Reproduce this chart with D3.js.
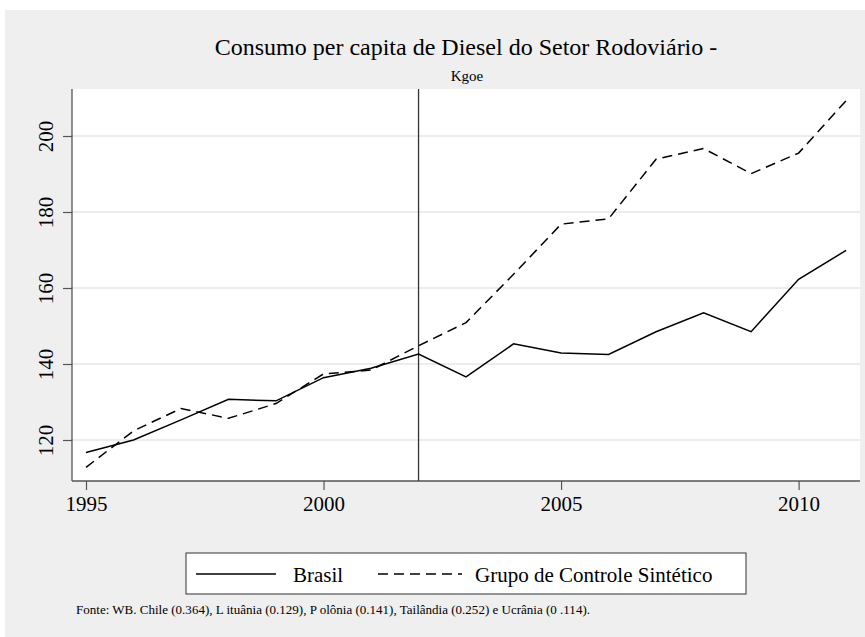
<!DOCTYPE html>
<html>
<head>
<meta charset="utf-8">
<script src="https://cdn.jsdelivr.net/npm/d3@7"></script>
<style>
  body { margin: 0; background: #fff; }
  svg text { font-family: "Liberation Serif", "Times New Roman", serif; fill: #000; }
</style>
</head>
<body>
<div id="chart"></div>
<script>
// data
const years = [1995, 1996, 1997, 1998, 1999, 2000, 2001, 2002, 2003,
  2004, 2005, 2006, 2007, 2008, 2009, 2010, 2011];
const brasil = [116.7, 120.0, 125.3, 130.7, 130.3, 136.4, 138.9, 142.6, 136.6,
  145.3, 142.9, 142.5, 148.5, 153.5, 148.5, 162.3, 169.9];
const sintetico = [112.8, 122.4, 128.3, 125.7, 129.6, 137.4, 138.4, 144.8, 150.9,
  163.6, 176.8, 178.2, 193.9, 196.7, 190.1, 195.5, 209.3];
const xTicks = [1995, 2000, 2005, 2010];
const yTicks = [120, 140, 160, 180, 200];
const treatYear = 2002;
const legendLabels = ["Brasil", "Grupo de Controle Sintético"];

const width = 865;
const height = 637;
// plot region
const plotLeft = 72, plotRight = 860, plotTop = 89, plotBottom = 481;

const x = d3.scaleLinear().domain([1995, 2010]).range([86, 798.6]);
const y = d3.scaleLinear().domain([120, 200]).range([440, 136]);

const svg = d3.select("#chart")
  .append("svg")
  .attr("width", width)
  .attr("height", height);

// outer gray panel
svg.append("rect")
  .attr("x", 5).attr("y", 10)
  .attr("width", width - 5).attr("height", height - 10)
  .attr("fill", "#efefef");

// plot background
svg.append("rect")
  .attr("x", plotLeft).attr("y", plotTop)
  .attr("width", plotRight - plotLeft).attr("height", plotBottom - plotTop)
  .attr("fill", "#fff");

// gridlines
svg.append("g")
  .selectAll("line")
  .data(yTicks)
  .join("line")
  .attr("x1", plotLeft).attr("x2", plotRight)
  .attr("y1", d => y(d)).attr("y2", d => y(d))
  .attr("stroke", "#e6e6e6")
  .attr("stroke-width", 1.3);

// title
svg.append("text")
  .attr("x", 466).attr("y", 55)
  .attr("text-anchor", "middle")
  .style("font-size", "24px")
  .text("Consumo per capita de Diesel do Setor Rodoviário -");
svg.append("text")
  .attr("x", 467).attr("y", 81)
  .attr("text-anchor", "middle")
  .style("font-size", "15px")
  .text("Kgoe");

// x axis
svg.append("g")
  .attr("transform", `translate(0,${plotBottom})`)
  .call(d3.axisBottom(x).tickValues(xTicks).tickSize(9).tickFormat(d3.format("d")))
  .call(g => g.select(".domain").remove())
  .call(g => g.selectAll(".tick line").attr("stroke", "#555").attr("stroke-width", 1.2))
  .call(g => g.selectAll(".tick text")
    .attr("y", 30).attr("dy", 0)
    .style("font-size", "21px")
    .attr("font-family", null));

// y axis
svg.append("g")
  .attr("transform", `translate(${plotLeft},0)`)
  .call(d3.axisLeft(y).tickValues(yTicks).tickSize(9))
  .call(g => g.select(".domain").remove())
  .call(g => g.selectAll(".tick line").attr("stroke", "#555").attr("stroke-width", 1.2))
  .call(g => g.selectAll(".tick text")
    .attr("transform", "rotate(-90)")
    .attr("x", 0).attr("y", -19).attr("dy", 0)
    .attr("text-anchor", "middle")
    .style("font-size", "21px")
    .attr("font-family", null));

// axis lines
svg.append("line")
  .attr("x1", plotLeft).attr("x2", plotLeft)
  .attr("y1", plotTop).attr("y2", plotBottom)
  .attr("stroke", "#555").attr("stroke-width", 1.3);
svg.append("line")
  .attr("x1", plotLeft).attr("x2", plotRight)
  .attr("y1", plotBottom).attr("y2", plotBottom)
  .attr("stroke", "#555").attr("stroke-width", 1.3);

// intervention line
svg.append("line")
  .attr("x1", x(treatYear)).attr("x2", x(treatYear))
  .attr("y1", plotTop).attr("y2", plotBottom)
  .attr("stroke", "#333").attr("stroke-width", 1.3);

const line = d3.line()
  .x((d, i) => x(years[i]))
  .y(d => y(d));

svg.append("path")
  .datum(brasil)
  .attr("d", line)
  .attr("fill", "none")
  .attr("stroke", "#000")
  .attr("stroke-width", 1.5);

svg.append("path")
  .datum(sintetico)
  .attr("d", line)
  .attr("fill", "none")
  .attr("stroke", "#000")
  .attr("stroke-width", 1.5)
  .attr("stroke-dasharray", "10,6");

// legend
const legend = svg.append("g");
legend.append("rect")
  .attr("x", 186).attr("y", 553)
  .attr("width", 560).attr("height", 41)
  .attr("fill", "#fff")
  .attr("stroke", "#333")
  .attr("stroke-width", 1);
legend.append("line")
  .attr("x1", 196).attr("x2", 276)
  .attr("y1", 574).attr("y2", 574)
  .attr("stroke", "#000").attr("stroke-width", 1.5);
legend.append("text")
  .attr("x", 293).attr("y", 582)
  .style("font-size", "21px")
  .text(legendLabels[0]);
legend.append("line")
  .attr("x1", 378).attr("x2", 462)
  .attr("y1", 574).attr("y2", 574)
  .attr("stroke", "#000").attr("stroke-width", 1.5)
  .attr("stroke-dasharray", "10,6");
legend.append("text")
  .attr("x", 475).attr("y", 582)
  .style("font-size", "21px")
  .text(legendLabels[1]);

// source note
svg.append("text")
  .attr("x", 76).attr("y", 614)
  .style("font-size", "12px")
  .attr("textLength", 514)
  .attr("lengthAdjust", "spacingAndGlyphs")
  .text("Fonte: WB. Chile (0.364), L ituânia (0.129), P olônia (0.141),  Tailândia (0.252) e Ucrânia (0 .114).");
</script>
</body>
</html>
